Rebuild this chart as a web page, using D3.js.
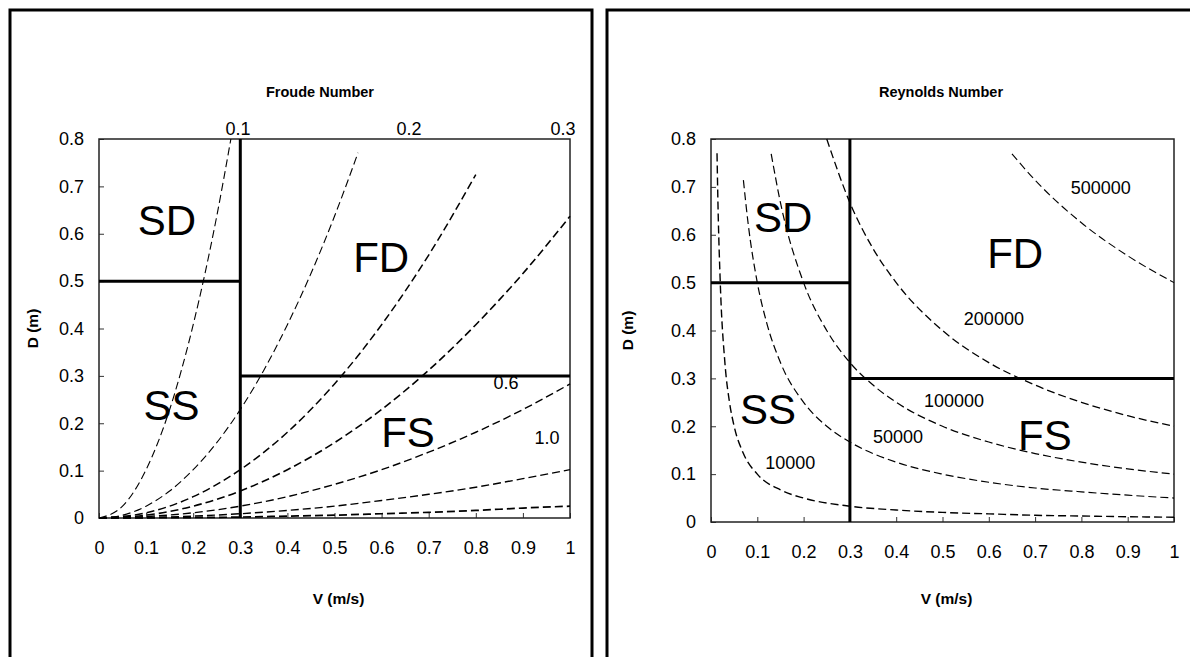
<!DOCTYPE html>
<html>
<head>
<meta charset="utf-8">
<script src="https://cdn.jsdelivr.net/npm/d3@7"></script>
<style>
  body { margin: 0; background: #fff; }
  svg { display: block; font-family: "Liberation Sans", Arial, sans-serif; }
</style>
</head>
<body>
<div id="chart"></div>
<script>
// Values: [V (m/s), D (m)] points along each curve
const froude01 = [[0,0],[0.05,0.025],[0.1,0.102],[0.15,0.229],[0.2,0.408],[0.25,0.637],[0.28,0.8]];
const froude02 = [[0,0],[0.05,0.006],[0.1,0.025],[0.15,0.057],[0.2,0.102],[0.25,0.159],[0.3,0.229],[0.35,0.312],[0.4,0.408],[0.45,0.516],[0.5,0.637],[0.55,0.771]];
const froude03 = [[0,0],[0.1,0.011],[0.2,0.045],[0.3,0.102],[0.4,0.181],[0.5,0.283],[0.6,0.408],[0.7,0.555],[0.8,0.725]];
const froude04 = [[0,0],[0.1,0.006],[0.2,0.025],[0.3,0.057],[0.4,0.102],[0.5,0.159],[0.6,0.229],[0.7,0.312],[0.8,0.408],[0.9,0.516],[1,0.637]];
const froude06 = [[0,0],[0.1,0.003],[0.2,0.011],[0.3,0.025],[0.4,0.045],[0.5,0.071],[0.6,0.102],[0.7,0.139],[0.8,0.181],[0.9,0.229],[1,0.283]];
const froude10 = [[0,0],[0.1,0.001],[0.2,0.004],[0.3,0.009],[0.4,0.016],[0.5,0.025],[0.6,0.037],[0.7,0.05],[0.8,0.065],[0.9,0.083],[1,0.102]];
const froude20 = [[0,0],[0.2,0.001],[0.3,0.002],[0.4,0.004],[0.5,0.006],[0.6,0.009],[0.7,0.012],[0.8,0.016],[0.9,0.021],[1,0.025]];

const re10000 = [[0.013,0.77],[0.015,0.667],[0.02,0.5],[0.03,0.333],[0.04,0.25],[0.05,0.2],[0.07,0.143],[0.1,0.1],[0.15,0.067],[0.2,0.05],[0.3,0.033],[0.4,0.025],[0.5,0.02],[0.6,0.017],[0.7,0.014],[0.8,0.0125],[0.9,0.011],[1,0.01]];
const re50000 = [[0.07,0.714],[0.08,0.625],[0.1,0.5],[0.12,0.417],[0.15,0.333],[0.2,0.25],[0.25,0.2],[0.3,0.167],[0.4,0.125],[0.5,0.1],[0.6,0.083],[0.7,0.071],[0.8,0.063],[0.9,0.056],[1,0.05]];
const re100000 = [[0.13,0.769],[0.15,0.667],[0.2,0.5],[0.25,0.4],[0.3,0.333],[0.35,0.286],[0.4,0.25],[0.5,0.2],[0.6,0.167],[0.7,0.143],[0.8,0.125],[0.9,0.111],[1,0.1]];
const re200000 = [[0.25,0.8],[0.3,0.667],[0.35,0.571],[0.4,0.5],[0.5,0.4],[0.6,0.333],[0.7,0.286],[0.8,0.25],[0.9,0.222],[1,0.2]];
const re500000 = [[0.65,0.769],[0.7,0.714],[0.8,0.625],[0.9,0.556],[1,0.5]];

// regime boundaries (same on both charts)
const boundaries = [
  [[0.3, 0], [0.3, 0.8]],
  [[0, 0.5], [0.3, 0.5]],
  [[0.3, 0.3], [1, 0.3]],
];
const regionNames = ["SD", "FD", "SS", "FS"];

const xTicks = [0, 0.1, 0.2, 0.3, 0.4, 0.5, 0.6, 0.7, 0.8, 0.9, 1];
const yTicks = [0, 0.1, 0.2, 0.3, 0.4, 0.5, 0.6, 0.7, 0.8];

const svg = d3.select("#chart").append("svg").attr("width", 1190).attr("height", 657);

class RegimeChart {
  constructor(_config) {
    this.config = _config;
    this.initVis();
  }

  initVis() {
    const vis = this;
    const c = vis.config;

    // outer frame (bottom runs off the page)
    svg.append("path")
      .attr("d", `M${c.box[0]},700 V${c.box[1]} H${c.box[2]} V700`)
      .attr("fill", "none")
      .attr("stroke", "#000")
      .attr("stroke-width", 3);

    vis.g = svg.append("g");
    vis.x = d3.scaleLinear().domain([0, 1]).range([c.left, c.right]);
    vis.y = d3.scaleLinear().domain([0, 0.8]).range([c.bottom, c.top]);

    vis.updateVis();
  }

  updateVis() {
    const vis = this;
    const c = vis.config;

    vis.g.append("g")
      .attr("transform", `translate(0,${c.bottom})`)
      .call(d3.axisBottom(vis.x).tickValues(xTicks).tickFormat(d3.format("")).tickSizeInner(-5).tickSizeOuter(0).tickPadding(23))
      .call((g) => g.select(".domain").remove())
      .call((g) => g.selectAll("line").attr("stroke", "#333"))
      .call((g) => g.selectAll("text").attr("font-size", 18).attr("font-family", null).attr("fill", "#000"));

    vis.g.append("g")
      .attr("transform", `translate(${c.left},0)`)
      .call(d3.axisLeft(vis.y).tickValues(yTicks).tickFormat(d3.format("")).tickSizeInner(-5).tickSizeOuter(0).tickPadding(15))
      .call((g) => g.select(".domain").remove())
      .call((g) => g.selectAll("line").attr("stroke", "#333"))
      .call((g) => g.selectAll("text").attr("font-size", 18).attr("font-family", null).attr("fill", "#000"));

    // plot frame
    vis.g.append("rect")
      .attr("x", vis.x(0)).attr("y", vis.y(0.8))
      .attr("width", vis.x(1) - vis.x(0)).attr("height", vis.y(0) - vis.y(0.8))
      .attr("fill", "none").attr("stroke", "#222").attr("stroke-width", 1.5);

    const line = d3.line()
      .x((d) => vis.x(d[0]))
      .y((d) => vis.y(d[1]))
      .curve(d3.curveMonotoneX);

    vis.g.selectAll("path.curve")
      .data(c.curves)
      .join("path")
      .attr("class", "curve")
      .attr("d", (d) => line(d.points))
      .attr("fill", "none")
      .attr("stroke", "#000")
      .attr("stroke-width", (d) => d.width)
      .attr("stroke-dasharray", "8,4");

    vis.g.selectAll("path.boundary")
      .data(boundaries)
      .join("path")
      .attr("class", "boundary")
      .attr("d", (d) => d3.line().x((p) => vis.x(p[0])).y((p) => vis.y(p[1]))(d))
      .attr("stroke", "#000")
      .attr("stroke-width", 3);

    vis.g.selectAll("text.region")
      .data(regionNames)
      .join("text")
      .attr("class", "region")
      .attr("x", (d) => vis.x(c.regionPos[d][0]))
      .attr("y", (d) => vis.y(c.regionPos[d][1]))
      .attr("dy", "0.36em")
      .attr("text-anchor", "middle")
      .attr("font-size", 42)
      .text((d) => d);

    vis.g.selectAll("text.curveLabel")
      .data(c.curveLabels)
      .join("text")
      .attr("class", "curveLabel")
      .attr("x", (d) => vis.x(d.pos[0]))
      .attr("y", (d) => vis.y(d.pos[1]))
      .attr("dy", "0.36em")
      .attr("text-anchor", "middle")
      .attr("font-size", 18)
      .text((d) => d.label);

    // titles
    vis.g.append("text")
      .attr("x", c.titleX).attr("y", 97)
      .attr("text-anchor", "middle")
      .attr("font-size", 14.5).attr("font-weight", "bold")
      .text(c.title);

    vis.g.append("text")
      .attr("x", (c.left + c.right) / 2 + 4).attr("y", 604)
      .attr("text-anchor", "middle")
      .attr("font-size", 15.5).attr("font-weight", "bold")
      .text("V (m/s)");

    vis.g.append("text")
      .attr("transform", `translate(${c.yTitleX},${(c.top + c.bottom) / 2}) rotate(-90)`)
      .attr("dy", "0.36em")
      .attr("text-anchor", "middle")
      .attr("font-size", 15.5).attr("font-weight", "bold")
      .text("D (m)");
  }
}

new RegimeChart({
  box: [10, 10, 592],
  left: 99, right: 570, top: 139, bottom: 518,
  title: "Froude Number", titleX: 320, yTitleX: 32,
  curves: [
    { points: froude01, width: 1.1 },
    { points: froude02, width: 1.1 },
    { points: froude03, width: 1.5 },
    { points: froude04, width: 1.6 },
    { points: froude06, width: 1.4 },
    { points: froude10, width: 1.4 },
    { points: froude20, width: 1.7 },
  ],
  regionPos: { SD: [0.144, 0.629], FD: [0.599, 0.551], SS: [0.154, 0.239], FS: [0.656, 0.182] },
  curveLabels: [
    { label: "0.1", pos: [0.295, 0.823] },
    { label: "0.2", pos: [0.658, 0.823] },
    { label: "0.3", pos: [0.985, 0.823] },
    { label: "0.6", pos: [0.864, 0.285] },
    { label: "1.0", pos: [0.951, 0.169] },
  ],
});

new RegimeChart({
  box: [607, 10, 1260],
  left: 711, right: 1174, top: 139, bottom: 522,
  title: "Reynolds Number", titleX: 941, yTitleX: 627,
  curves: [
    { points: re10000, width: 1.4 },
    { points: re50000, width: 1.2 },
    { points: re100000, width: 1.2 },
    { points: re200000, width: 1.3 },
    { points: re500000, width: 1.1 },
  ],
  regionPos: { SD: [0.156, 0.638], FD: [0.657, 0.562], SS: [0.123, 0.236], FS: [0.721, 0.182] },
  curveLabels: [
    { label: "500000", pos: [0.842, 0.698] },
    { label: "200000", pos: [0.611, 0.426] },
    { label: "100000", pos: [0.525, 0.253] },
    { label: "50000", pos: [0.404, 0.178] },
    { label: "10000", pos: [0.171, 0.125] },
  ],
});
</script>
</body>
</html>
